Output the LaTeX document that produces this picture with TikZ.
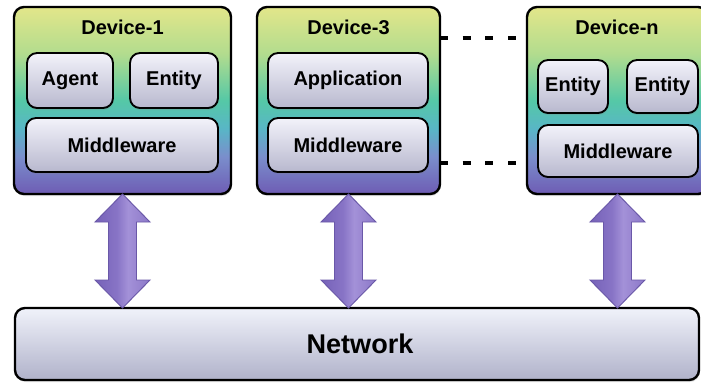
\documentclass[tikz,border=0pt]{standalone}
\usepackage{fontspec}
\setmainfont{Liberation Sans}
\usetikzlibrary{calc,shadows}

\definecolor{devA}{HTML}{6E5CB4}
\definecolor{devB}{HTML}{7A8ECC}
\definecolor{devC}{HTML}{58B6C6}
\definecolor{devD}{HTML}{55C8A6}
\definecolor{devE}{HTML}{B2DC8E}
\definecolor{devF}{HTML}{E2E68A}
\definecolor{compT}{HTML}{F2F2FA}
\definecolor{compB}{HTML}{B8B8CE}
\definecolor{netT}{HTML}{F0F2FA}
\definecolor{netB}{HTML}{B0B2CA}
\definecolor{arA}{HTML}{7662B8}
\definecolor{arB}{HTML}{8874C6}
\definecolor{arC}{HTML}{A391D8}
\definecolor{arD}{HTML}{8C78C8}
\definecolor{arEdge}{HTML}{6A58A8}

% vertical colour ramp of the device panels (bottom -> top)
\pgfdeclareverticalshading{devshade}{100bp}{
  color(0bp)=(devA); color(25bp)=(devA);
  color(35bp)=(devB); color(42.5bp)=(devC); color(50bp)=(devD);
  color(62.5bp)=(devE); color(75bp)=(devF); color(100bp)=(devF)}
% inner components: light lavender to pale white
\pgfdeclareverticalshading{compshade}{100bp}{
  color(0bp)=(compB); color(25bp)=(compB); color(75bp)=(compT); color(100bp)=(compT)}
\pgfdeclareverticalshading{netshade}{100bp}{
  color(0bp)=(netB); color(25bp)=(netB); color(75bp)=(netT); color(100bp)=(netT)}
% double arrows: shaded across their width
\pgfdeclarehorizontalshading{arrshade}{100bp}{
  color(0bp)=(arA); color(25bp)=(arA); color(45bp)=(arB);
  color(55bp)=(arC); color(75bp)=(arD); color(100bp)=(arD)}

\begin{document}
\begin{tikzpicture}[x=0.75pt,y=-0.75pt,
  sz/.style 2 args={minimum width=#1*0.75pt, minimum height=#2*0.75pt},
  softshadow/.style={drop shadow={opacity=0.25, shadow xshift=0.6pt, shadow yshift=-1.5pt}},
  devbox/.style={draw=black, line width=1.8pt, rounded corners=7.5pt,
    shading=devshade, inner sep=0pt, outer sep=0pt, softshadow},
  compbox/.style={draw=black, line width=1.4pt, rounded corners=7.5pt,
    shading=compshade, inner sep=0pt, outer sep=0pt, softshadow,
    font=\bfseries\fontsize{15pt}{17pt}\selectfont},
  netbox/.style={draw=black, line width=1.8pt, rounded corners=7.5pt,
    shading=netshade, inner sep=0pt, outer sep=0pt, softshadow},
  title/.style={font=\bfseries\fontsize{15pt}{17pt}\selectfont, inner sep=0pt},
  linkdots/.style={line width=3pt, dash pattern=on 6pt off 11pt},
  bigarrow/.style={draw=arEdge, line width=0.7pt, shading=arrshade, line join=miter}
]
\clip (0,0) rectangle (701,383);
\fill[white] (0,0) rectangle (701,383);

% device panels
\node[devbox, sz={217}{187}] (dev1) at (122.5,100.5) {};
\node[devbox, sz={183}{187}] (dev3) at (348.5,100.5) {};
\node[devbox, sz={181}{187}] (devn) at (617.5,100.5) {};

\node[title] (t1) at (122.5,27) {Device-1};
\node[title] (t3) at (348.5,27) {Device-3};
\node[title] (tn) at (617,27) {Device-n};

% components of Device-1
\node[compbox, sz={86}{55}] (agent) at (70,80.5) {Agent};
\node[compbox, sz={88}{55}] (ent1) at (174,80.5) {Entity};
\node[compbox, sz={192}{54}] (mw1) at (122,145) {Middleware};

% components of Device-3
\node[compbox, sz={160}{55}] (app) at (348,80.5) {Application};
\node[compbox, sz={160}{54}] (mw3) at (348,145) {Middleware};

% components of Device-n
\node[compbox, sz={70}{53}] (entA) at (573,86.5) {Entity};
\node[compbox, sz={71}{53}] (entB) at (662.5,86.5) {Entity};
\node[compbox, sz={160}{52}] (mwn) at (618,151) {Middleware};

% shared network
\node[netbox, sz={684}{72}] (net) at (357,344) {};
\node[font=\bfseries\fontsize{20.3pt}{22pt}\selectfont, inner sep=0pt] (netlabel) at (360,344) {Network};

% the devices left out between Device-3 and Device-n
\draw[linkdots] (dev3.east |- 0,38) -- (devn.west |- 0,38);
\draw[linkdots] (dev3.east |- 0,163) -- (devn.west |- 0,163);

% two-way links between each device and the network
\foreach \d in {dev1,dev3,devn}{
  \coordinate (top) at (\d.south);
  \coordinate (bot) at (\d.south |- net.north);
  \path[bigarrow]
    (top) -- ($(top)+(27.5,28)$) -- ($(top)+(14,28)$) -- ($(bot)+(14,-28)$)
    -- ($(bot)+(27.5,-28)$) -- (bot) -- ($(bot)+(-27.5,-28)$) -- ($(bot)+(-14,-28)$)
    -- ($(top)+(-14,28)$) -- ($(top)+(-27.5,28)$) -- cycle;
}
\end{tikzpicture}
\end{document}
